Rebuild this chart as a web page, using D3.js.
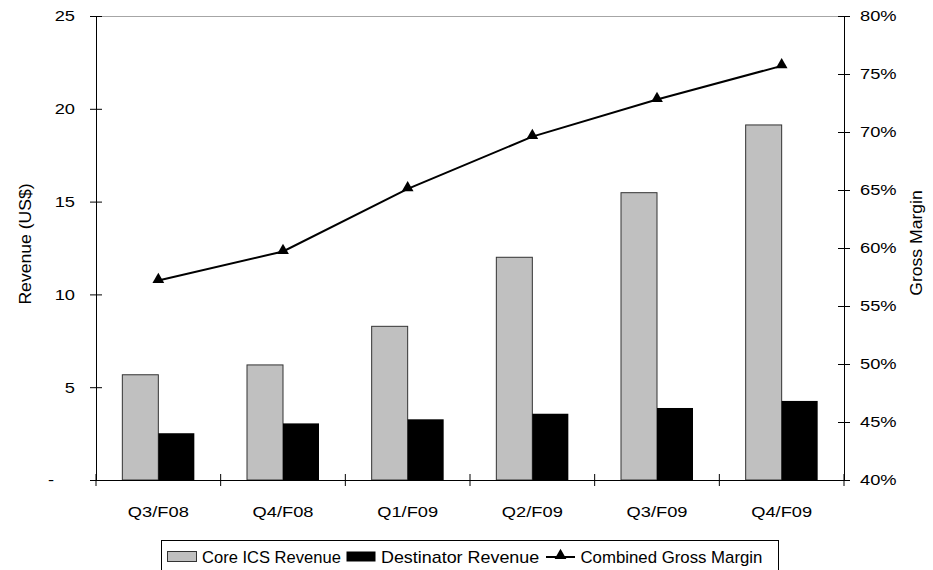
<!DOCTYPE html>
<html>
<head>
<meta charset="utf-8">
<script src="https://cdn.jsdelivr.net/npm/d3@7"></script>
<style>
  html, body { margin: 0; padding: 0; background: #fff; }
  svg { display: block; font-family: "Liberation Sans", Arial, sans-serif; }
</style>
</head>
<body>
<svg id="chart" width="933" height="570"></svg>
<script>
// Quarterly revenue (US$ millions) and combined gross margin
const quarters = ["Q3/F08", "Q4/F08", "Q1/F09", "Q2/F09", "Q3/F09", "Q4/F09"];
const coreRevenue = [5.67, 6.2, 8.28, 12.0, 15.48, 19.13];
const destinatorRevenue = [2.52, 3.05, 3.27, 3.57, 3.88, 4.26];
const grossMargin = [0.572, 0.597, 0.651, 0.696, 0.728, 0.757];
const revenueTicks = [0, 5, 10, 15, 20, 25];
const marginTicks = [0.40, 0.45, 0.50, 0.55, 0.60, 0.65, 0.70, 0.75, 0.80];
const seriesNames = ["Core ICS Revenue", "Destinator Revenue", "Combined Gross Margin"];

const svg = d3.select("#chart");
const plot = { left: 96, right: 844, top: 16, bottom: 480 };
const STRETCH = 1.18;      // horizontal widening of label glyphs
const TITLE_STRETCH = 1.1;

const x = d3.scaleBand().domain(quarters).range([plot.left, plot.right]).padding(0);
const xSub = d3.scaleBand().domain(["core", "dest"]).range([0, x.bandwidth()])
  .paddingInner(0).paddingOuter(0.7315);
const yRev = d3.scaleLinear().domain([0, 25]).range([plot.bottom, plot.top]);
const yMargin = d3.scaleLinear().domain([0.40, 0.80]).range([plot.bottom, plot.top]);

// top border of the plot area
svg.append("line")
  .attr("x1", plot.left).attr("x2", plot.right)
  .attr("y1", plot.top + 0.5).attr("y2", plot.top + 0.5)
  .attr("stroke", "#a6a6a6").attr("stroke-width", 1);

// bars
const groups = svg.append("g").selectAll("g")
  .data(quarters).join("g")
  .attr("transform", d => `translate(${x(d)},0)`);

groups.append("rect")
  .attr("x", xSub("core"))
  .attr("width", xSub.bandwidth())
  .attr("y", (d, i) => yRev(coreRevenue[i]))
  .attr("height", (d, i) => yRev(0) - yRev(coreRevenue[i]))
  .attr("fill", "#c0c0c0").attr("stroke", "#333").attr("stroke-width", 1);

groups.append("rect")
  .attr("x", xSub("dest"))
  .attr("width", xSub.bandwidth())
  .attr("y", (d, i) => yRev(destinatorRevenue[i]))
  .attr("height", (d, i) => yRev(0) - yRev(destinatorRevenue[i]))
  .attr("fill", "#000");

function stretchTicks(g, s) {
  g.selectAll(".tick text").each(function () {
    const t = d3.select(this);
    const xv = +t.attr("x") || 0;
    t.attr("x", xv / s).attr("transform", `scale(${s},1)`);
  });
}

const tickFont = 15.5;

// left axis
const gLeft = svg.append("g").attr("transform", `translate(${plot.left},0)`)
  .call(d3.axisLeft(yRev).tickValues(revenueTicks).tickSizeInner(6).tickSizeOuter(0)
    .tickPadding(15).tickFormat(d => d === 0 ? "-" : d3.format("d")(d)));
gLeft.selectAll(".tick line").attr("x1", -6).attr("x2", 6);
gLeft.selectAll(".tick text").attr("font-size", tickFont).attr("font-family", null)
  .attr("x", d => d === 0 ? -42 : -21);
stretchTicks(gLeft, STRETCH);

// right axis
const gRight = svg.append("g").attr("transform", `translate(${plot.right},0)`)
  .call(d3.axisRight(yMargin).tickValues(marginTicks).tickSizeInner(6).tickSizeOuter(0)
    .tickPadding(10).tickFormat(d3.format(".0%")));
gRight.selectAll(".tick line").attr("x1", -6).attr("x2", 6);
gRight.selectAll(".tick text").attr("font-size", tickFont).attr("font-family", null)
  .attr("x", 16);
stretchTicks(gRight, STRETCH);

// bottom axis: ticks sit on band boundaries
const boundaryTicks = d3.range(quarters.length + 1).map(i => plot.left + i * x.step());
const gBottom = svg.append("g").attr("transform", `translate(0,${plot.bottom})`)
  .call(d3.axisBottom(x).tickSize(0).tickPadding(0));
gBottom.selectAll(".tick text").attr("font-size", tickFont).attr("font-family", null)
  .attr("y", 37.5).attr("dy", 0);
stretchTicks(gBottom, STRETCH);
gBottom.selectAll("line.boundary").data(boundaryTicks).join("line")
  .attr("class", "boundary")
  .attr("x1", d => d).attr("x2", d => d).attr("y1", -6).attr("y2", 6)
  .attr("stroke", "#000");

[gLeft, gRight, gBottom].forEach(g => {
  g.select(".domain").attr("stroke", "#000");
  g.selectAll(".tick line").attr("stroke", "#000");
  g.attr("font-family", null);
});

// gross margin line with triangle markers
const cx = q => x(q) + x.bandwidth() / 2;
const line = d3.line().x((d, i) => cx(quarters[i])).y(d => yMargin(d));
svg.append("path").datum(grossMargin)
  .attr("d", line).attr("fill", "none").attr("stroke", "#000").attr("stroke-width", 2);

const tri = d3.symbol().type(d3.symbolTriangle).size(60);
svg.append("g").selectAll("path").data(grossMargin).join("path")
  .attr("d", tri)
  .attr("transform", (d, i) => `translate(${cx(quarters[i])},${yMargin(d) - 1})`)
  .attr("fill", "#000");

// axis titles
svg.append("text")
  .attr("transform", `translate(31,244) rotate(-90) scale(${TITLE_STRETCH},1)`)
  .attr("text-anchor", "middle").attr("font-size", 16)
  .text("Revenue (US$)");
svg.append("text")
  .attr("transform", `translate(921.5,243) rotate(-90) scale(${TITLE_STRETCH},1)`)
  .attr("text-anchor", "middle").attr("font-size", 16)
  .text("Gross Margin");

// legend: each entry starts at a fixed slot along the box
const legendFont = 16;
const legendSlots = [167.5, 346.5, 546];
const legendStretch = [1.035, 1.12, 1.05];
const legend = svg.append("g");
legend.append("rect")
  .attr("x", 161.5).attr("y", 540.5).attr("width", 617).attr("height", 45)
  .attr("fill", "#fff").attr("stroke", "#000").attr("stroke-width", 1);

seriesNames.forEach((name, i) => {
  const lx = legendSlots[i];
  if (i === 0) {
    legend.append("rect").attr("x", lx).attr("y", 551.5).attr("width", 29).attr("height", 10)
      .attr("fill", "#c0c0c0").attr("stroke", "#333");
  } else if (i === 1) {
    legend.append("rect").attr("x", lx).attr("y", 551.5).attr("width", 29).attr("height", 10)
      .attr("fill", "#000");
  } else {
    legend.append("line").attr("x1", lx).attr("x2", lx + 29).attr("y1", 557).attr("y2", 557)
      .attr("stroke", "#000").attr("stroke-width", 2);
    legend.append("path").attr("d", tri)
      .attr("transform", `translate(${lx + 14.5},555.5)`).attr("fill", "#000");
  }
  const tx = lx + 34.5;
  const s = legendStretch[i];
  legend.append("text")
    .attr("x", tx / s).attr("y", 563)
    .attr("transform", `scale(${s},1)`)
    .attr("font-size", legendFont).text(name);
});
</script>
</body>
</html>
